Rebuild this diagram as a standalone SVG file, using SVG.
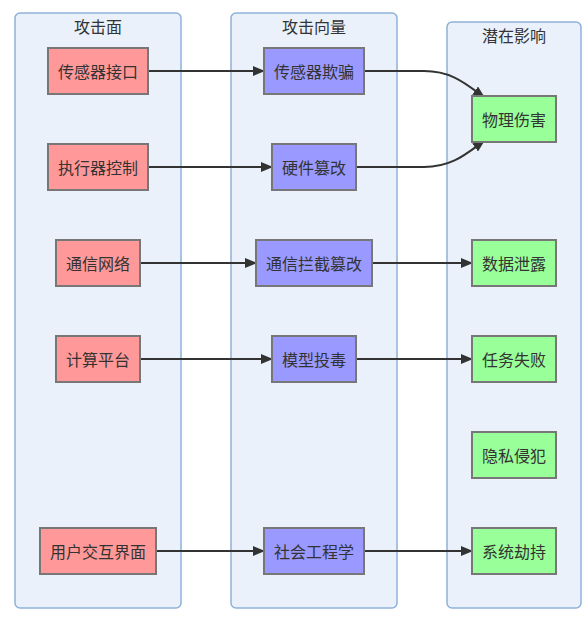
<svg xmlns="http://www.w3.org/2000/svg" width="588" height="627" viewBox="0 0 588 627">
<defs>
<marker id="arr" viewBox="0 0 12 10" refX="11" refY="5" markerWidth="12" markerHeight="10" markerUnits="userSpaceOnUse" orient="auto">
<path d="M0,0 L12,5 L0,10 z" fill="#333"/>
</marker>
</defs>
<style>
text{font-family:"Noto Sans CJK SC","Liberation Sans",sans-serif;font-size:16px;fill:#333;text-anchor:middle;dominant-baseline:central}
.cl{fill:#eaf1fb;stroke:#8eb1d9;stroke-width:1.5}
.n rect{stroke:#777;stroke-width:2}
.a rect{fill:#ff9999}
.v rect{fill:#9999ff}
.i rect{fill:#99ff99}
.e{fill:none;stroke:#333;stroke-width:2;marker-end:url(#arr)}
</style>
<g id="cluster-surface"><rect class="cl" x="15" y="13" width="166" height="595" rx="5"/><text x="98" y="26">攻击面</text></g>
<g id="cluster-vector"><rect class="cl" x="231" y="13" width="166" height="595" rx="5"/><text x="314" y="26">攻击向量</text></g>
<g id="cluster-impact"><rect class="cl" x="447" y="22" width="134" height="586" rx="5"/><text x="514" y="35">潜在影响</text></g>

<g id="edges">
<path class="e" d="M148,71 H264"/>
<path class="e" d="M148,167 H272"/>
<path class="e" d="M140,263 H256"/>
<path class="e" d="M140,359 H272"/>
<path class="e" d="M156,551 H264"/>
<path class="e" d="M364,71 H424 C452,71 466,84 484,97"/>
<path class="e" d="M356,167 H424 C452,167 466,154 484,141"/>
<path class="e" d="M372,263 H472"/>
<path class="e" d="M356,359 H472"/>
<path class="e" d="M364,551 H472"/>
</g>

<g id="s1" class="n a"><rect x="48" y="48" width="100" height="46"/><text x="98" y="71">传感器接口</text></g>
<g id="s2" class="n a"><rect x="48" y="144" width="100" height="46"/><text x="98" y="167">执行器控制</text></g>
<g id="s3" class="n a"><rect x="56" y="240" width="84" height="46"/><text x="98" y="263">通信网络</text></g>
<g id="s4" class="n a"><rect x="56" y="336" width="84" height="46"/><text x="98" y="359">计算平台</text></g>
<g id="s5" class="n a"><rect x="40" y="528" width="116" height="46"/><text x="98" y="551">用户交互界面</text></g>

<g id="v1" class="n v"><rect x="264" y="48" width="100" height="46"/><text x="314" y="71">传感器欺骗</text></g>
<g id="v2" class="n v"><rect x="272" y="144" width="84" height="46"/><text x="314" y="167">硬件篡改</text></g>
<g id="v3" class="n v"><rect x="256" y="240" width="116" height="46"/><text x="314" y="263">通信拦截篡改</text></g>
<g id="v4" class="n v"><rect x="272" y="336" width="84" height="46"/><text x="314" y="359">模型投毒</text></g>
<g id="v5" class="n v"><rect x="264" y="528" width="100" height="46"/><text x="314" y="551">社会工程学</text></g>

<g id="i1" class="n i"><rect x="472" y="96" width="84" height="46"/><text x="514" y="119">物理伤害</text></g>
<g id="i2" class="n i"><rect x="472" y="240" width="84" height="46"/><text x="514" y="263">数据泄露</text></g>
<g id="i3" class="n i"><rect x="472" y="336" width="84" height="46"/><text x="514" y="359">任务失败</text></g>
<g id="i4" class="n i"><rect x="472" y="432" width="84" height="46"/><text x="514" y="455">隐私侵犯</text></g>
<g id="i5" class="n i"><rect x="472" y="528" width="84" height="46"/><text x="514" y="551">系统劫持</text></g>
</svg>
